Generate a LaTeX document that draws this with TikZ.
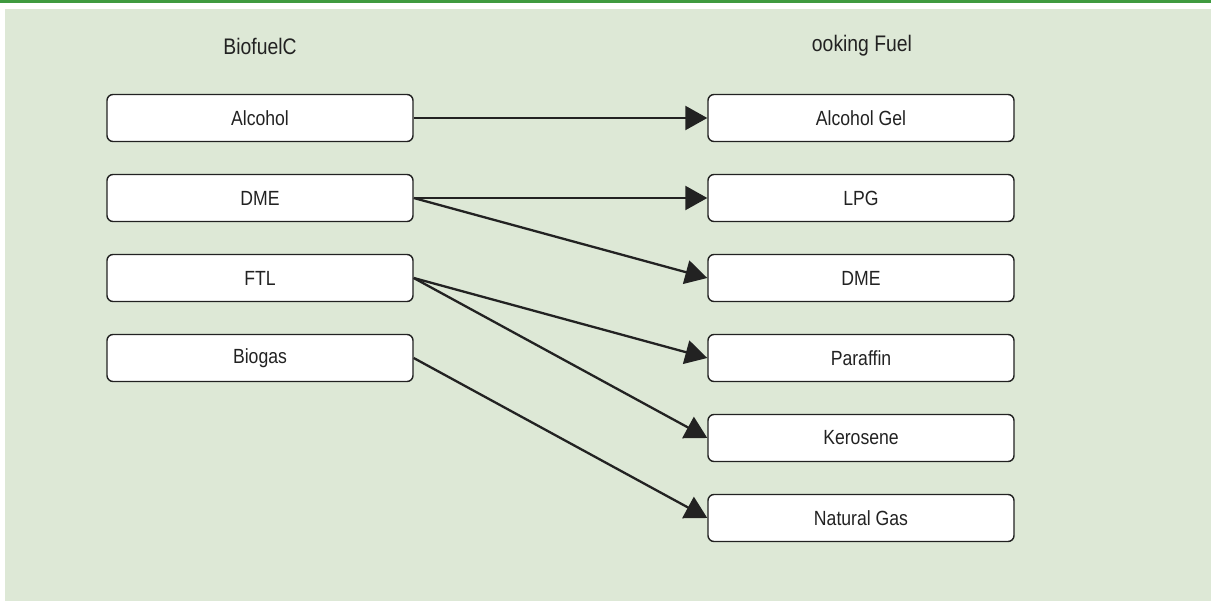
\documentclass[tikz,border=0pt]{standalone}
\usepackage{fontspec}
\setmainfont{Liberation Sans}[FakeStretch=0.86]
\usepackage{tikz}
\usetikzlibrary{arrows.meta}

\definecolor{barGreen}{HTML}{3F9A3F}
\definecolor{paleGreen}{HTML}{DDE8D6}
\definecolor{inkGray}{HTML}{222222}

\tikzset{
	fuelbox/.style={draw=inkGray, line width=1.4pt, rounded corners=6pt, fill=white,
		minimum width=306pt, minimum height=47pt, inner sep=0pt,
		font=\fontsize{20.5}{24}\selectfont, text=inkGray},
	head/.style={font=\fontsize{22.5}{26}\selectfont, text=inkGray},
	link/.style={draw=inkGray, line width=2.3pt, -{Triangle[length=22pt,width=24pt]}}
}

\begin{document}
\begin{tikzpicture}[x=1pt, y=-1pt]

	\useasboundingbox (0,0) rectangle (1211,601);
	\fill[white] (0,0) rectangle (1211,601);
	\fill[paleGreen] (5,9) rectangle (1211,601);
	\fill[barGreen] (0,0) rectangle (1211,3);

	\node[head] (hl) at (260,46) {BiofuelC};
	\node[head] (hr) at (862,46) {ooking Fuel};

	\node[fuelbox] (alc) at (260,118) {Alcohol};
	\node[fuelbox] (dme) at (260,198) {DME};
	\node[fuelbox] (ftl) at (260,278) {FTL};
	\node[fuelbox] (bio) at (260,358) {Biogas};

	\node[fuelbox] (gel) at (861,118) {Alcohol Gel};
	\node[fuelbox] (lpg) at (861,198) {LPG};
	\node[fuelbox] (dmo) at (861,278) {DME};
	\node[fuelbox] (par) at (861,358) {Paraffin};
	\node[fuelbox] (ker) at (861,438) {Kerosene};
	\node[fuelbox] (gas) at (861,518) {Natural Gas};

	\draw[link] (alc.east) -- (gel.west);
	\draw[link] (dme.east) -- (lpg.west);
	\draw[link] (dme.east) -- (dmo.west);
	\draw[link] (ftl.east) -- (par.west);
	\draw[link] (ftl.east) -- (ker.west);
	\draw[link] (bio.east) -- (gas.west);

\end{tikzpicture}
\end{document}
